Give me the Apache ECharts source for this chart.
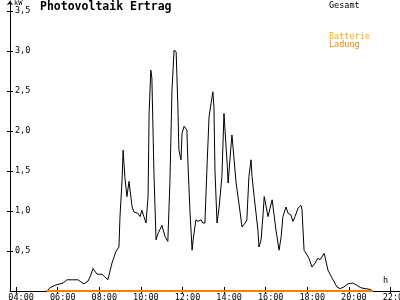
<!DOCTYPE html>
<html>
<head>
<meta charset="utf-8">
<script src="https://cdn.jsdelivr.net/npm/echarts@6/dist/echarts.min.js"></script>
<style>html,body{margin:0;padding:0;background:#fff}#c{width:400px;height:300px}</style>
</head>
<body>
<div id="c"></div>
<script>
// Gesamt (kW) readings
var TIMES = ['05:29','05:38','05:52','06:07','06:16','06:27','06:42','06:59','07:05','07:16','07:28','07:36','07:42','07:54','08:08','08:25','08:37','08:48','08:57','09:00','09:06','09:09','09:14','09:20','09:26','09:35','09:40','09:52','09:58','10:03','10:09','10:15','10:21','10:24','10:29','10:32','10:38','10:44','10:50','11:01','11:10','11:18','11:24','11:30','11:36','11:42','11:47','11:50','11:56','11:59','12:05','12:13','12:16','12:22','12:28','12:31','12:39','12:45','12:54','12:59','13:05','13:11','13:17','13:23','13:28','13:31','13:34','13:40','13:46','13:54','14:00','14:03','14:09','14:12','14:20','14:23','14:26','14:35','14:43','14:52','15:01','15:06','15:12','15:18','15:21','15:27','15:32','15:38','15:41','15:47','15:53','15:56','16:01','16:07','16:19','16:24','16:30','16:39','16:45','16:50','16:59','17:05','17:13','17:19','17:25','17:34','17:42','17:45','17:51','18:00','18:05','18:14','18:23','18:31','18:37','18:49','19:00','19:12','19:26','19:35','19:46','19:58','20:12','20:24','20:35','20:47','21:01','21:10'];
var GESAMT = [0.00,0.04,0.07,0.09,0.10,0.14,0.14,0.14,0.12,0.09,0.125,0.20,0.28,0.21,0.21,0.14,0.35,0.49,0.55,0.93,1.39,1.76,1.43,1.18,1.37,1.05,0.99,0.97,0.93,1.01,0.93,0.85,1.18,2.22,2.76,2.66,1.47,0.64,0.72,0.82,0.68,0.62,1.35,2.51,3.01,2.99,2.30,1.76,1.64,1.97,2.06,2.01,1.60,0.99,0.51,0.64,0.89,0.87,0.89,0.85,0.85,1.55,2.18,2.35,2.49,2.30,1.51,0.85,1.05,1.43,2.22,2.01,1.60,1.35,1.80,1.95,1.80,1.35,1.10,0.80,0.85,0.89,1.43,1.64,1.43,1.18,1.16,0.76,0.55,0.64,0.97,1.18,1.07,0.93,1.14,0.97,0.76,0.51,0.68,0.93,1.05,0.97,0.95,0.87,0.93,1.04,1.07,1.02,0.51,0.45,0.41,0.30,0.35,0.41,0.39,0.47,0.26,0.16,0.05,0.03,0.05,0.09,0.10,0.07,0.04,0.03,0.02,0.00];
// Batterie Ladung (kW)
var LADUNG_TIMES = ['05:29','21:10'];
var LADUNG = [0, 0];
// axis ticks
var X_TICKS = ['04:00','06:00','08:00','10:00','12:00','14:00','16:00','18:00','20:00','22:00'];
var Y_TICKS = [0.5,1.0,1.5,2.0,2.5,3.0,3.5];

function toMin(s){var p=s.split(':');return (+p[0])*60+(+p[1]);}
function fmtMin(m){var h=Math.floor(m/60),mm=Math.round(m%60);return (h<10?'0':'')+h+':'+(mm<10?'0':'')+mm;}
var xTickVals = X_TICKS.map(toMin);
var gesData = TIMES.map(function(t,i){return [toMin(t),GESAMT[i]];});
var ladData = LADUNG_TIMES.map(function(t,i){return [toMin(t),LADUNG[i]];});

var FONT = 'DejaVu Sans Mono';
var XMIN = 222.7, XMAX = 1347.8, YMAX = 3.625;

var chart = echarts.init(document.getElementById('c'), null, {renderer:'canvas'});
chart.setOption({
  animation:false,
  backgroundColor:'#ffffff',
  grid:{left:10,right:0,top:1,bottom:9,containLabel:false,outerBoundsMode:'none'},
  xAxis:[{
    type:'value', min:XMIN, max:XMAX,
    axisLine:{show:true,onZero:false,lineStyle:{color:'#000',width:1}},
    axisTick:{show:true,length:2,customValues:xTickVals,lineStyle:{color:'#000'}},
    axisLabel:{show:true,customValues:xTickVals,formatter:function(v){return '  '+fmtMin(v);},
      fontFamily:FONT,fontSize:8.5,color:'#000',margin:2,align:'center',hideOverlap:false},
    splitLine:{show:false}
  },{
    type:'value', min:XMIN, max:XMAX, position:'bottom',
    axisLine:{show:false,onZero:false},
    axisTick:{show:true,inside:true,length:4,customValues:xTickVals,lineStyle:{color:'#000'}},
    axisLabel:{show:false}, splitLine:{show:false}
  }],
  yAxis:[{
    type:'value', min:0, max:YMAX,
    axisLine:{show:true,onZero:false,lineStyle:{color:'#000',width:1},symbol:['none','arrow'],symbolSize:[5,4]},
    axisTick:{show:true,length:3,customValues:Y_TICKS,lineStyle:{color:'#000'}},
    axisLabel:{show:true,inside:true,customValues:Y_TICKS,margin:5,
      formatter:function(v){return v.toFixed(1).replace('.',',');},
      fontFamily:FONT,fontSize:8.5,color:'#000'},
    splitLine:{show:false}
  },{
    type:'value', min:0, max:YMAX, position:'left',
    axisLine:{show:false,onZero:false},
    axisTick:{show:true,inside:true,length:3,customValues:Y_TICKS,lineStyle:{color:'#000'}},
    axisLabel:{show:false}, splitLine:{show:false}
  }],
  series:[{
    name:'Gesamt', type:'line', data:gesData, showSymbol:false, symbol:'none',
    lineStyle:{color:'#000',width:1}, z:3
  },{
    name:'Ladung', type:'line', data:ladData, showSymbol:false, symbol:'none',
    lineStyle:{color:'#ff8000',width:2}, z:4
  }],
  graphic:[
    {type:'text',left:40,top:1,style:{text:'Photovoltaik Ertrag',font:'bold 11.5px "DejaVu Sans Mono"',fill:'#000'}},
    {type:'text',left:14,top:0,style:{text:'kW',font:'7px "DejaVu Sans Mono"',fill:'#000'}},
    {type:'text',left:329,top:1,style:{text:'Gesamt',font:'8.5px "DejaVu Sans Mono"',fill:'#000'}},
    {type:'text',left:329,top:32,style:{text:'Batterie',font:'8.5px "DejaVu Sans Mono"',fill:'#ffaa00'}},
    {type:'text',left:329,top:40,style:{text:'Ladung',font:'8.5px "DejaVu Sans Mono"',fill:'#ff8000'}},
    {type:'text',left:383,top:276,style:{text:'h',font:'8.5px "DejaVu Sans Mono"',fill:'#000'}}
  ]
});
</script>
</body>
</html>
